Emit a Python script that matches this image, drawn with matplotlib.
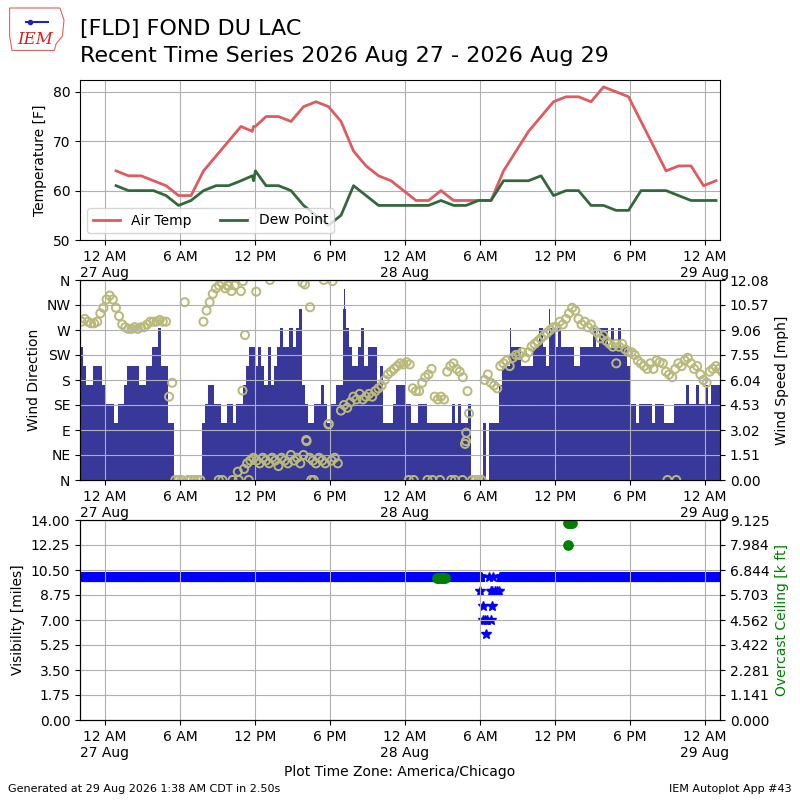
import numpy as np
import pandas as pd
import matplotlib
matplotlib.use("Agg")
import matplotlib.pyplot as plt
import matplotlib.dates as mdates
from matplotlib.ticker import FuncFormatter, FormatStrFormatter
from matplotlib.patches import Polygon

# ---------------- data ----------------
obs_time = [
    "2026-08-27 00:53", "2026-08-27 01:53", "2026-08-27 02:53", "2026-08-27 03:53",
    "2026-08-27 04:53", "2026-08-27 05:53", "2026-08-27 06:53", "2026-08-27 07:53",
    "2026-08-27 08:53", "2026-08-27 09:53", "2026-08-27 10:53", "2026-08-27 11:47",
    "2026-08-27 11:53", "2026-08-27 12:02", "2026-08-27 12:53", "2026-08-27 13:53",
    "2026-08-27 14:53", "2026-08-27 15:53", "2026-08-27 16:53", "2026-08-27 17:53",
    "2026-08-27 18:53", "2026-08-27 19:53", "2026-08-27 20:53", "2026-08-27 21:53",
    "2026-08-27 22:53", "2026-08-27 23:53", "2026-08-28 00:53", "2026-08-28 01:53",
    "2026-08-28 02:53", "2026-08-28 03:53", "2026-08-28 04:53", "2026-08-28 05:53",
    "2026-08-28 06:53", "2026-08-28 07:53", "2026-08-28 08:53", "2026-08-28 09:53",
    "2026-08-28 10:53", "2026-08-28 11:53", "2026-08-28 12:53", "2026-08-28 13:53",
    "2026-08-28 14:53", "2026-08-28 15:53", "2026-08-28 16:53", "2026-08-28 17:53",
    "2026-08-28 18:53", "2026-08-28 19:53", "2026-08-28 20:53", "2026-08-28 21:53",
    "2026-08-28 22:53", "2026-08-28 23:53", "2026-08-29 00:53",
]
air_temp = [64, 63, 63, 62, 61, 59, 59, 64, 67, 70, 73, 72, 73, 73, 75, 75, 74, 77, 78, 77,
            74, 68, 65, 63, 62, 60, 58, 58, 60, 58, 58, 58, 58, 64, 68, 72, 75, 78, 79, 79,
            78, 81, 80, 79, 74, 69, 64, 65, 65, 61, 62]
dew_point = [61, 60, 60, 60, 59, 57, 58, 60, 61, 61, 62, 63, 62, 64, 61, 61, 60, 57, 55, 53,
             55, 61, 59, 57, 57, 57, 57, 57, 58, 57, 57, 58, 58, 62, 62, 62, 63, 59, 60, 60,
             57, 57, 56, 56, 60, 60, 60, 59, 58, 58, 58]

# 15-minute wind bins starting 2026-08-26 22:00 (one group of four per hour)
wind_start = "2026-08-26 22:00"
wind_kt = [
    7, 6, 5, 5,   6, 6, 6, 5,   4, 4, 4, 3,   4, 4, 5, 6,   6, 6, 6, 5,
    5, 6, 6, 7,   7, 8, 6, 6,   3, 3, 0, 0,   0, 0, 0, 0,   0, 0, 0, 3,
    4, 5, 5, 4,   4, 3, 3, 4,   4, 3, 4, 4,   5, 6, 7, 7,   6, 7, 6, 5,
    7, 5, 6, 7,   8, 7, 7, 8,   7, 8, 9, 5,   4, 3, 3, 4,   4, 5, 4, 3,
    4, 4, 5, 5,   9, 8, 7, 6,   6, 7, 8, 6,   7, 7, 7, 5,   6, 3, 3, 3,
    4, 5, 5, 5,   4, 4, 3, 3,   4, 4, 4, 3,   3, 3, 3, 3,   3, 3, 3, 4,
    3, 4, 3, 3,   4, 0, 0, 0,   0, 3, 0, 3,   3, 3, 5, 6,   6, 6, 7, 7,
    7, 6, 6, 6,   6, 7, 7, 8,   7, 6, 8, 8,   7, 8, 7, 7,   7, 7, 6, 6,
    7, 7, 7, 7,   8, 7, 8, 8,   8, 7, 8, 7,   8, 7, 7, 6,   4, 4, 3, 4,
    4, 4, 4, 3,   4, 4, 4, 3,   3, 3, 4, 4,   4, 4, 5, 4,   4, 5, 4, 4,
    5, 4, 5, 5,   5, 5, 5, 5,
]
wind_dir = [
    285, 290, 285, 282,   282, 285, 300, 310,   325, 332, 325, 310,   295, 280, 275, 272,
    272, 275, 272, 275,   275, 280, 285, 285,   285, 288, 285, 285,   150, 175, 0, 0,
    0, 320, 0, 0,         0, 0, 0, 285,         305, 320, 335, 345,   350, 355, 345, 350,
    340, 350, 15, 340,    20, 30, 35, 40,       35, 30, 40, 35,       30, 40, 35, 25,
    40, 35, 30, 45,       35, 40, 30, 45,       70, 40, 35, 30,       40, 35, 30, 100,
    35, 40, 30, 125,      135, 130, 140, 150,   145, 155, 145, 150,   155, 150, 160, 165,
    170, 180, 190, 195,   200, 205, 210, 208,   212, 208, 165, 160,   160, 175, 185, 190,
    200, 150, 145, 150,   145, 195, 205, 210,   200, 195, 185, 70,    120, 0, 0, 0,
    0, 180, 190, 175,     170, 165, 205, 210,   215, 205, 220, 225,   225, 230, 220, 230,
    240, 245, 250, 255,   260, 265, 270, 275,   275, 285, 280, 290,   300, 310, 305, 290,
    280, 285, 275, 280,   270, 265, 255, 260,   250, 245, 240, 245,   240, 245, 235, 230,
    230, 225, 215, 210,   205, 200, 210, 200,   215, 212, 210, 195,   190, 185, 200, 210,
    205, 215, 220, 210,   200, 205, 190, 180,   175, 195, 200, 205,   200, 195, 200, 200,
]
# individual 1-minute peaks
spike_time = ["2026-08-27 04:00", "2026-08-27 11:46", "2026-08-27 13:42", "2026-08-27 13:55",
              "2026-08-27 15:36", "2026-08-27 19:10", "2026-08-28 08:26", "2026-08-28 11:34",
              "2026-08-28 12:38"]
spike_kt = [9, 9, 9, 9, 9, 10, 8, 9, 10]
# scattered single direction reports
dir_extra_time = ["2026-08-27 09:06", "2026-08-27 09:24", "2026-08-27 09:48", "2026-08-27 10:12",
                  "2026-08-27 10:42", "2026-08-27 11:00", "2026-08-27 11:02", "2026-08-27 11:12",
                  "2026-08-27 11:30", "2026-08-27 12:06", "2026-08-27 13:12", "2026-08-27 15:48",
                  "2026-08-27 16:00", "2026-08-27 16:06", "2026-08-27 16:24", "2026-08-27 16:30",
                  "2026-08-27 16:42", "2026-08-27 17:30", "2026-08-27 17:54", "2026-08-27 18:12",
                  "2026-08-28 00:18", "2026-08-28 00:42", "2026-08-28 01:48", "2026-08-28 02:12",
                  "2026-08-28 02:48", "2026-08-28 03:42", "2026-08-28 04:00", "2026-08-28 04:36",
                  "2026-08-28 04:48", "2026-08-28 04:54", "2026-08-28 05:00", "2026-08-28 16:54",
                  "2026-08-28 21:00", "2026-08-28 21:42"]
dir_extra_deg = [0, 0, 350, 0, 0, 161, 358, 261, 0, 339, 360, 355, 352, 72, 311, 0, 0, 360, 101,
                 358, 0, 0, 0, 0, 0, 0, 0, 0, 65, 85, 160, 210, 0, 0]

# visibility: 1-minute runs at 10 miles plus the morning dip
vis_run_start = ["2026-08-26 22:00", "2026-08-28 07:36"]
vis_run_end = ["2026-08-28 06:05", "2026-08-29 01:12"]
vis_run_miles = [10, 10]
vis_dip_time = ["2026-08-28 06:00", "2026-08-28 06:16", "2026-08-28 06:16", "2026-08-28 06:22",
                "2026-08-28 06:29", "2026-08-28 06:35", "2026-08-28 06:42", "2026-08-28 06:51",
                "2026-08-28 06:51", "2026-08-28 06:56", "2026-08-28 06:56", "2026-08-28 07:02",
                "2026-08-28 07:12", "2026-08-28 07:20", "2026-08-28 07:31"]
vis_dip_miles = [9, 8, 7, 7, 6, 7, 10, 7, 9, 8, 9, 10, 9, 9, 9]

ceil_time = ["2026-08-28 02:32", "2026-08-28 02:40", "2026-08-28 02:48", "2026-08-28 02:56",
             "2026-08-28 03:04", "2026-08-28 03:12", "2026-08-28 13:00", "2026-08-28 13:04",
             "2026-08-28 13:08", "2026-08-28 13:15", "2026-08-28 13:22"]
ceil_kft = [6.5, 6.5, 6.5, 6.5, 6.5, 6.5, 9.0, 8.0, 9.0, 9.0, 9.0]

x_start = "2026-08-26 22:00"
x_end = "2026-08-29 01:12"
speed_axis_max = 12.08
ceil_axis_max = 9.125
dir_labels = ["N", "NE", "E", "SE", "S", "SW", "W", "NW", "N"]

# ---------------- figure ----------------
KT2MPH = 1.15078
fig = plt.figure(figsize=(8, 8), dpi=100)

t_obs = pd.to_datetime(obs_time)
xlim = (pd.Timestamp(x_start), pd.Timestamp(x_end))


def xfmt(x, pos):
    d = mdates.num2date(x)
    if d.hour == 0:
        return "12 AM\n" + d.strftime("%d %b")
    h = d.hour % 12 or 12
    return f"{h} {'AM' if d.hour < 12 else 'PM'}"


def style_x(ax):
    ax.set_xlim(*xlim)
    ax.xaxis.set_major_locator(mdates.HourLocator(byhour=[0, 6, 12, 18]))
    ax.xaxis.set_major_formatter(FuncFormatter(xfmt))


# temperature panel
ax1 = fig.add_axes([0.1, 0.7, 0.8, 0.2])
ax1.plot(t_obs, air_temp, color="#de5b60", lw=2, label="Air Temp")
ax1.plot(t_obs, dew_point, color="#33693a", lw=2, label="Dew Point")
ax1.set_ylim(50, 82.4)
ax1.set_ylabel("Temperature [F]")
ax1.grid(True)
ax1.legend(loc="lower left", ncol=2)
style_x(ax1)

# wind panel
axw = fig.add_axes([0.1, 0.4, 0.8, 0.25])
axs = axw.twinx()
t_wind = pd.date_range(wind_start, periods=len(wind_kt), freq="15min")
bin_w = 15.0 / 1440.0
axs.bar(t_wind, np.array(wind_kt) * KT2MPH, width=bin_w, align="edge",
        color="#38389a", linewidth=0)
axs.bar(pd.to_datetime(spike_time), np.array(spike_kt) * KT2MPH, width=1.5 / 1440.0,
        color="#38389a", linewidth=0)
axs.set_ylim(0, speed_axis_max)
axs.set_yticks(np.linspace(0, speed_axis_max, 9))
axs.yaxis.set_major_formatter(FormatStrFormatter("%.2f"))
axs.set_ylabel("Wind Speed [mph]")

t_dir = t_wind + pd.Timedelta(minutes=7.5)
circ = "#b9b97a"
axw.scatter(t_dir, wind_dir, s=34, facecolors="none", edgecolors=circ, linewidths=1.4)
axw.scatter(pd.to_datetime(dir_extra_time), dir_extra_deg, s=34, facecolors="none",
            edgecolors=circ, linewidths=1.4)
axw.set_ylim(0, 360)
axw.set_yticks(np.arange(0, 361, 45))
axw.set_yticklabels(dir_labels)
axw.set_ylabel("Wind Direction")
axw.set_zorder(axs.get_zorder() + 1)
axw.patch.set_visible(False)
axw.grid(True)
style_x(axw)

# visibility panel
axv = fig.add_axes([0.1, 0.1, 0.8, 0.25])
axc = axv.twinx()
vt, vv = [], []
for s, e, m in zip(vis_run_start, vis_run_end, vis_run_miles):
    rng = pd.date_range(s, e, freq="1min")
    vt.extend(rng)
    vv.extend([m] * len(rng))
vt.extend(pd.to_datetime(vis_dip_time))
vv.extend(vis_dip_miles)
axv.plot(vt, vv, "*", color="#0000ff", ms=7, linestyle="none", zorder=2)
axv.set_ylim(0, 14)
axv.set_yticks(np.arange(0, 14.01, 1.75))
axv.yaxis.set_major_formatter(FormatStrFormatter("%.2f"))
axv.set_ylabel("Visibility [miles]")
axv.set_xlabel("Plot Time Zone: America/Chicago")
axv.set_axisbelow(False)
axv.grid(True)

axc.plot(pd.to_datetime(ceil_time), ceil_kft, "o", color="green", ms=6.7, linestyle="none")
axc.set_ylim(0, ceil_axis_max)
axc.set_yticks(np.linspace(0, ceil_axis_max, 9))
axc.yaxis.set_major_formatter(FormatStrFormatter("%.3f"))
axc.set_ylabel("Overcast Ceiling [k ft]", color="green")
style_x(axv)
style_x(axc)

# titles & footer
fig.text(0.1, 0.976, "[FLD] FOND DU LAC\nRecent Time Series 2026 Aug 27 - 2026 Aug 29",
         fontsize=16, va="top", ha="left", linespacing=1.4)
fig.text(0.01, 0.0135, "Generated at 29 Aug 2026 1:38 AM CDT in 2.50s", fontsize=8,
         va="center", ha="left")
fig.text(0.99, 0.0135, "IEM Autoplot App #43", fontsize=8, va="center", ha="right")

# simple IEM logo
outline = Polygon([[0.012, 0.990], [0.075, 0.990], [0.080, 0.975], [0.078, 0.955],
                   [0.070, 0.945], [0.068, 0.937], [0.015, 0.937], [0.012, 0.955]],
                  closed=True, fill=False, edgecolor="#e06060", lw=0.8,
                  transform=fig.transFigure)
fig.add_artist(outline)
fig.text(0.044, 0.951, "IEM", color="#d42020", fontsize=12, family="DejaVu Serif",
         style="italic", ha="center", va="center")
fig.add_artist(plt.Line2D([0.032, 0.06], [0.972, 0.972], color="#2020d0", lw=1.5,
                          transform=fig.transFigure))
fig.add_artist(plt.Line2D([0.038], [0.972], marker="o", ms=3, color="#2020d0",
                          transform=fig.transFigure))

fig.savefig("out.png", dpi=100)
